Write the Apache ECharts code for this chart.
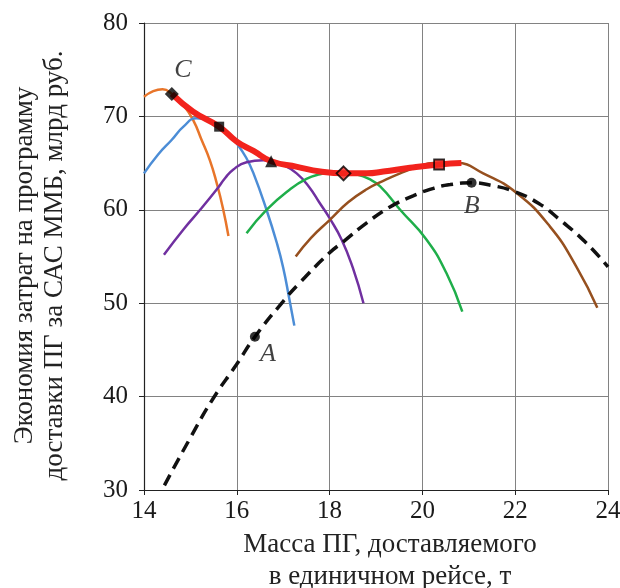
<!DOCTYPE html>
<html>
<head>
<meta charset="utf-8">
<script src="https://cdn.jsdelivr.net/npm/echarts@6/dist/echarts.min.js"></script>
<style>
  html, body { margin: 0; padding: 0; background: #fff; }
  #chart { width: 620px; height: 588px; }
</style>
</head>
<body>
<div id="chart"></div>
<script>
// кривые по вариантам (x - масса ПГ, т; y - экономия, млрд руб.)
var orangeCurve = [[14.0,72.1],[14.2,72.7],[14.4,72.9],[14.6,72.4],[14.85,71.2],[15.06,69.6],[15.24,67.5],[15.42,65.3],[15.57,62.8],[15.7,60.2],[15.82,57.2]];
var blueCurve = [[14.0,63.9],[14.3,65.9],[14.6,67.5],[14.85,68.9],[15.13,69.8],[15.4,69.6],[15.62,68.9],[15.8,68.2],[16.0,67.1],[16.2,65.6],[16.36,63.9],[16.64,60.0],[16.86,56.5],[17.0,53.8],[17.13,50.5],[17.24,47.6]];
var purpleCurve = [[14.43,55.2],[14.85,57.9],[15.21,60.0],[15.57,62.2],[15.75,63.4],[15.92,64.3],[16.21,65.1],[16.57,65.3],[16.74,65.2],[17.0,64.8],[17.29,63.9],[17.55,62.5],[17.79,60.7],[18.0,59.1],[18.26,56.8],[18.5,53.8],[18.73,50.0]];
var greenCurve = [[16.21,57.5],[16.64,60.0],[17.15,62.2],[17.5,63.3],[17.79,63.8],[18.05,64.0],[18.3,64.0],[18.58,63.8],[18.85,63.3],[19.09,62.5],[19.52,60.0],[20.09,56.8],[20.52,53.2],[20.86,49.1]];
var brownCurve = [[17.27,55.0],[17.6,57.0],[18.0,58.9],[18.4,60.8],[18.8,62.2],[19.2,63.2],[19.52,63.9],[19.9,64.6],[20.24,65.0],[20.74,65.0],[21.31,63.9],[22.03,61.8],[22.75,58.2],[23.32,53.9],[23.77,49.5]];
var dashedCurve = [[14.44,30.5],[15.0,35.6],[15.49,39.8],[15.99,43.4],[16.39,46.4],[17.0,50.2],[17.36,52.2],[18.0,55.4],[18.3,56.6],[18.8,58.6],[19.3,60.3],[19.8,61.5],[20.24,62.3],[20.6,62.7],[21.06,62.9],[21.5,62.6],[21.96,62.0],[22.5,60.7],[22.97,58.9],[23.5,56.6],[24.0,53.9]];
var envelopeCurve = [[14.6,72.4],[15.06,70.5],[15.62,68.9],[16.0,67.3],[16.36,66.3],[16.74,65.2],[17.3,64.6],[17.8,64.1],[18.3,63.9],[18.8,63.9],[19.16,64.1],[19.73,64.5],[20.36,64.85],[20.84,65.0]];

// точки на огибающей и на пунктирной кривой
var pointC = [14.6, 72.4];
var pointSquare = [15.62, 68.9];
var pointTriangle = [16.74, 65.2];
var pointDiamond = [18.3, 63.9];
var pointOpenSquare = [20.36, 64.85];
var pointA = [16.39, 46.4];
var pointB = [21.06, 62.9];

var xTicks = [14, 16, 18, 20, 22, 24];
var yTicks = [30, 40, 50, 60, 70, 80];

var serif = '"Liberation Serif", "DejaVu Serif", serif';

function curve(data, color, width, dashed) {
    return {
        type: 'line',
        data: data,
        smooth: 0.5,
        showSymbol: false,
        silent: true,
        lineStyle: {
            color: color,
            width: width,
            type: dashed ? [12, 7] : 'solid',
            cap: 'butt'
        }
    };
}

function marker(point, symbol, size, fill, label, labelOffset) {
    return {
        type: 'scatter',
        data: [point],
        symbol: symbol,
        symbolSize: size,
        itemStyle: { color: fill, borderColor: '#000', borderWidth: fill == '#000' ? 0 : 1.8 },
        label: {
            show: !!label,
            formatter: label || '',
            position: 'inside',
            offset: labelOffset || [0, 0],
            fontFamily: serif,
            fontStyle: 'italic',
            fontSize: 26,
            color: '#111'
        },
        z: 5
    };
}

var chart = echarts.init(document.getElementById('chart'));
var option = {
    animation: false,
    grid: { left: 144, top: 23, right: 12, bottom: 98, outerBoundsMode: 'none', containLabel: false },
    xAxis: {
        type: 'value',
        min: xTicks[0],
        max: xTicks[xTicks.length - 1],
        interval: 2,
        name: 'Масса ПГ, доставляемого\nв единичном рейсе, т',
        nameLocation: 'middle',
        nameGap: 38,
        nameTextStyle: { fontFamily: serif, fontSize: 27, color: '#222', lineHeight: 32, padding: [0, 0, 0, 28] },
        axisLine: { lineStyle: { color: '#222', width: 1.2 } },
        axisTick: { show: true, length: 5, lineStyle: { color: '#222' } },
        axisLabel: { fontFamily: serif, fontSize: 25, color: '#1a1a1a', margin: 9 },
        splitLine: { show: true, lineStyle: { color: '#828282', width: 1 } }
    },
    yAxis: {
        type: 'value',
        min: yTicks[0],
        max: yTicks[yTicks.length - 1],
        interval: 10,
        name: 'Экономия затрат на программу\nдоставки ПГ за САС ММБ, млрд руб.',
        nameLocation: 'middle',
        nameRotate: 90,
        nameGap: 74,
        nameTextStyle: { fontFamily: serif, fontSize: 27, color: '#222', lineHeight: 30, padding: [0, 18, 0, 0] },
        axisLine: { show: true, lineStyle: { color: '#222', width: 1.2 } },
        axisTick: { show: true, length: 5, lineStyle: { color: '#222' } },
        axisLabel: { fontFamily: serif, fontSize: 25, color: '#1a1a1a', margin: 16 },
        splitLine: { show: true, lineStyle: { color: '#828282', width: 1 } }
    },
    series: [
        curve(orangeCurve, '#e8752a', 2.5),
        curve(blueCurve, '#4c8dd6', 2.5),
        curve(purpleCurve, '#7030a0', 2.5),
        curve(greenCurve, '#1fae4a', 2.5),
        curve(brownCurve, '#96501f', 2.5),
        curve(dashedCurve, '#111', 3.5, true),
        curve(envelopeCurve, '#f2231d', 6),
        marker(pointC, 'diamond', 14, '#000', 'C', [11, -24]),
        marker(pointSquare, 'rect', 10, '#000'),
        marker(pointTriangle, 'triangle', 12, '#000'),
        marker(pointDiamond, 'diamond', 14, '#f2231d'),
        marker(pointOpenSquare, 'rect', 10, '#f2231d'),
        marker(pointA, 'circle', 10, '#000', 'A', [13, 17]),
        marker(pointB, 'circle', 10, '#000', 'B', [0, 23])
    ]
};
chart.setOption(option);
</script>
</body>
</html>
